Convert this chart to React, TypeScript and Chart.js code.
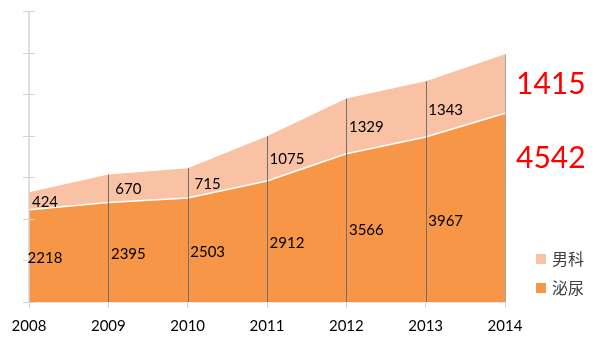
import React, { useEffect, useRef } from "react";
import { Chart, registerables } from "chart.js";

Chart.register(...registerables);

const years = ["2008", "2009", "2010", "2011", "2012", "2013", "2014"];
const urology = [2218, 2395, 2503, 2912, 3566, 3967, 4542];
const andrology = [424, 670, 715, 1075, 1329, 1343, 1415];
const yMax = 7000;
const yStep = 1000;
const seriesNames = ["男科", "泌尿"];

const ORANGE = "#F79646";
const LIGHT = "#F9C2A5";
const NUM_FONT = "Lato, 'Open Sans', sans-serif";
const CJK_FONT = "'Noto Sans CJK SC', sans-serif";

const overlay = {
  id: "overlay",
  afterDatasetsDraw(chart: any) {
    const ctx = chart.ctx;
    const xs = chart.scales.x;
    const ys = chart.scales.y;
    const area = chart.chartArea;
    ctx.save();
    // y axis line
    ctx.strokeStyle = "#d4d4d4";
    ctx.lineWidth = 1.5;
    ctx.beginPath();
    ctx.moveTo(area.left, ys.getPixelForValue(yMax));
    ctx.lineTo(area.left, ys.getPixelForValue(0));
    ctx.stroke();
    ctx.lineWidth = 1;
    for (let v = 0; v <= yMax; v += yStep) {
      const py = Math.round(ys.getPixelForValue(v)) + 0.5;
      ctx.beginPath();
      ctx.moveTo(area.left - 6, py);
      ctx.lineTo(area.left + 6, py);
      ctx.stroke();
    }
    // drop lines
    for (let i = 1; i < years.length; i++) {
      const px = Math.round(xs.getPixelForValue(i)) + 0.5;
      ctx.strokeStyle = i === years.length - 1 ? "#a8a8a8" : "#6f6f6f";
      ctx.lineWidth = 1;
      ctx.beginPath();
      ctx.moveTo(px, ys.getPixelForValue(0));
      ctx.lineTo(px, ys.getPixelForValue(urology[i] + andrology[i]));
      ctx.stroke();
    }
    // data labels
    ctx.fillStyle = "#000";
    ctx.font = `15px ${NUM_FONT}`;
    ctx.textAlign = "center";
    ctx.textBaseline = "middle";
    for (let i = 0; i < years.length - 1; i++) {
      const cx = xs.getPixelForValue(i) + (i === 0 ? 16 : 20);
      const yb = ys.getPixelForValue(urology[i] / 2) + 2;
      const yt = ys.getPixelForValue(urology[i] + andrology[i] / 2) + 1;
      ctx.fillText(String(urology[i]), cx, yb);
      ctx.fillText(String(andrology[i]), cx, yt);
    }
    // highlighted last values
    const li = years.length - 1;
    ctx.fillStyle = "#FF0000";
    ctx.font = `30px ${NUM_FONT}`;
    ctx.textAlign = "left";
    const lx = xs.getPixelForValue(li) + 11;
    ctx.fillText(String(andrology[li]), lx, ys.getPixelForValue(urology[li] + andrology[li] / 2) + 1);
    ctx.fillText(String(urology[li]), lx, ys.getPixelForValue(urology[li]) + 45);
    // legend
    const legendColors = [LIGHT, ORANGE];
    ctx.font = `16px ${CJK_FONT}`;
    ctx.textAlign = "left";
    for (let k = 0; k < seriesNames.length; k++) {
      const cy = 259 + k * 29;
      ctx.fillStyle = legendColors[k];
      ctx.fillRect(536, cy - 5, 10, 10);
      ctx.fillStyle = "#404040";
      ctx.fillText(seriesNames[k], 552, cy);
    }
    ctx.restore();
  },
};

export default function App() {
  const ref = useRef<HTMLCanvasElement | null>(null);
  useEffect(() => {
    if (!ref.current) return;
    const chart = new Chart(ref.current, {
      type: "line",
      data: {
        labels: years,
        datasets: [
          {
            label: seriesNames[1],
            data: urology,
            backgroundColor: ORANGE,
            borderColor: "#ffffff",
            borderWidth: 1.5,
            fill: "origin",
            pointRadius: 0,
            tension: 0,
          },
          {
            label: seriesNames[0],
            data: andrology,
            backgroundColor: LIGHT,
            borderColor: LIGHT,
            borderWidth: 0,
            fill: "-1",
            pointRadius: 0,
            tension: 0,
          },
        ],
      },
      options: {
        responsive: false,
        animation: false,
        layout: { padding: { left: 29, right: 95, top: 11, bottom: 0 } },
        plugins: { legend: { display: false }, tooltip: { enabled: false } },
        scales: {
          x: {
            offset: false,
            grid: { display: true, drawOnChartArea: false, color: "#d4d4d4", tickLength: 6 },
            border: { color: "#d4d4d4", width: 1.5 },
            ticks: { color: "#000", font: { family: NUM_FONT, size: 15 }, padding: 9, maxRotation: 0 },
            afterFit: (s: any) => {
              s.height = 41;
            },
          },
          y: {
            display: false,
            stacked: true,
            min: 0,
            max: yMax,
            ticks: { stepSize: yStep },
          },
        },
      },
      plugins: [overlay],
    });
    return () => chart.destroy();
  }, []);
  return (
    <div style={{ position: "fixed", left: 0, top: 0, width: 600, height: 343, background: "#fff" }}>
      <canvas ref={ref} width={600} height={343} />
    </div>
  );
}
